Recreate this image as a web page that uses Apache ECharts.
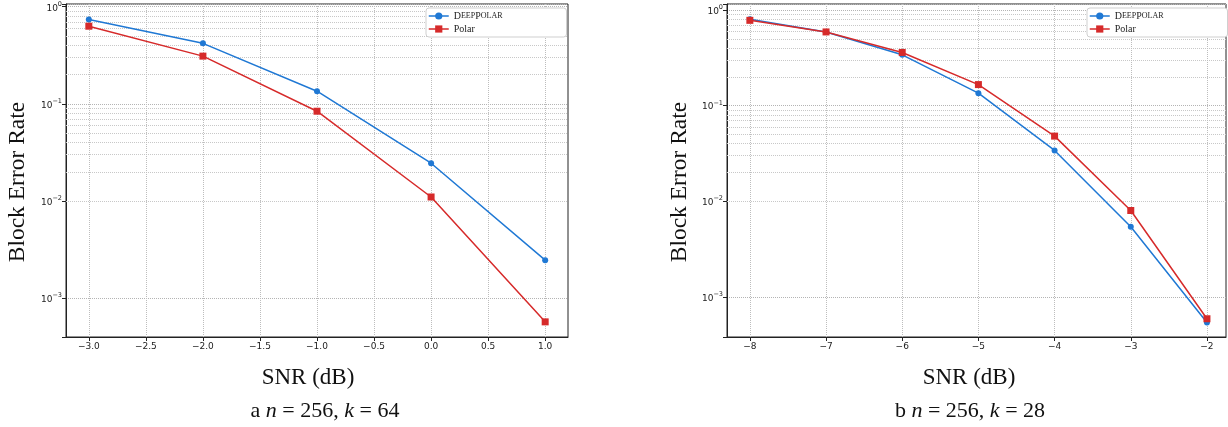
<!DOCTYPE html>
<html>
<head>
<meta charset="utf-8">
<script src="https://cdn.jsdelivr.net/npm/echarts@6/dist/echarts.min.js"></script>
<style>html,body{margin:0;padding:0;background:#fff}#c{width:1228px;height:427px}</style>
</head>
<body>
<div id="c"></div>
<script>
// ---- data ----
const snrA = [-3, -2, -1, 0, 1];
const deepA = [0.74, 0.42, 0.135, 0.0245, 0.00246];
const polarA = [0.63, 0.31, 0.084, 0.011, 0.00057];

const snrB = [-8, -7, -6, -5, -4, -3, -2];
const deepB = [0.80, 0.59, 0.34, 0.135, 0.034, 0.0054, 0.00054];
const polarB = [0.78, 0.59, 0.36, 0.166, 0.048, 0.0080, 0.00059];

const xTicksA = [-3, -2.5, -2, -1.5, -1, -0.5, 0, 0.5, 1];
const xTicksB = [-8, -7, -6, -5, -4, -3, -2];
const decades = [1e-4, 1e-3, 1e-2, 1e-1];
const minorMultipliers = [2, 3, 4, 5, 6, 7, 8, 9];

const seriesNames = ['DeepPolar', 'Polar'];
const BLUE = '#1f78d4', RED = '#d62a2a';

const minorVals = [];
decades.forEach(d => minorMultipliers.forEach(m => minorVals.push(d * m)));

const chart = echarts.init(document.getElementById('c'), null, {renderer: 'canvas'});

function yFmt(v) {
  const l = Math.log10(v);
  const e = Math.round(l);
  if (Math.abs(l - e) > 1e-6) return '';
  return '{b|10}{s|' + (e < 0 ? '\u2212' + (-e) : e) + '}';
}
function xFmtA(v) { return (v < 0 ? '\u2212' : '') + Math.abs(v).toFixed(1); }
function xFmtB(v) { return (v < 0 ? '\u2212' : '') + Math.abs(v).toFixed(0); }

const tickFont = {fontFamily: 'DejaVu Sans', fontSize: 9, color: '#222'};

function xAxis(idx, min, max, ticks, fmt) {
  return {
    type: 'value', gridIndex: idx, min: min, max: max,
    axisLine: {show: true, onZero: false, lineStyle: {color: '#222', width: 1}},
    axisTick: {show: true, length: 4, customValues: ticks, lineStyle: {color: '#222'}},
    axisLabel: Object.assign({margin: 5, customValues: ticks, formatter: fmt}, tickFont),
    splitLine: {show: false}
  };
}
function yAxis(idx, min, max) {
  return {
    type: 'log', logBase: 10, gridIndex: idx, min: min, max: max,
    axisLine: {show: true, onZero: false, lineStyle: {color: '#222', width: 1}},
    axisTick: {show: true, length: 4, lineStyle: {color: '#222'}},
    axisLabel: {
      margin: 4, formatter: yFmt,
      rich: {
        b: {fontFamily: 'DejaVu Sans', fontSize: 9, color: '#222', padding: [3, 0, 0, 0]},
        s: {fontFamily: 'DejaVu Sans', fontSize: 6.5, color: '#222', padding: [0, 0, 5, 0]}
      }
    },
    splitLine: {show: true, lineStyle: {color: '#b4b4b4', type: [1, 1], width: 1}}
  };
}

function gridLines(xIdx, ticks, yMin, yMax) {
  const data = [];
  minorVals.forEach(v => { if (v > yMin && v < yMax) data.push({yAxis: v, lineStyle: {color: '#c8c8c8', type: [1, 1], width: 1}}); });
  ticks.forEach(t => data.push({xAxis: t, lineStyle: {color: '#bdbdbd', type: [1, 1], width: 1}}));
  return {
    type: 'line', xAxisIndex: xIdx, yAxisIndex: xIdx, data: [], silent: true,
    markLine: {silent: true, symbol: 'none', label: {show: false}, animation: false, data: data}
  };
}

function lineSeries(name, idx, xs, ys, color, symbol, size) {
  return {
    name: name, type: 'line', xAxisIndex: idx, yAxisIndex: idx,
    data: xs.map((x, i) => [x, ys[i]]),
    symbol: symbol, symbolSize: size, showSymbol: true,
    lineStyle: {color: color, width: 1.5},
    itemStyle: {color: color, borderColor: color, borderWidth: 0},
    z: 5, animation: false
  };
}

const yMinA = Math.pow(10, -3.4), yMaxA = Math.pow(10, 0.028);
const yMinB = Math.pow(10, -3.42), yMaxB = Math.pow(10, 0.063);

function legend(left) {
  return {
    left: left, top: 8, orient: 'vertical', z: 10,
    data: [
      {name: seriesNames[0], itemStyle: {color: BLUE, borderColor: BLUE, borderWidth: 0}, lineStyle: {color: BLUE, width: 1.5}},
      {name: seriesNames[1], itemStyle: {color: RED, borderColor: RED, borderWidth: 0}, lineStyle: {color: RED, width: 1.5}}
    ],
    backgroundColor: '#fff', borderColor: '#cfcfcf', borderWidth: 1, borderRadius: 3,
    padding: [3, 64, 3, 2], itemGap: 3, itemWidth: 20, itemHeight: 9, itemTextGap: 6,
    formatter: function (n) { return n === 'DeepPolar' ? '{big|D}{sc|EEP}{big|P}{sc|OLAR}' : '{big|Polar}'; },
    textStyle: {
      rich: {
        big: {fontFamily: 'Liberation Serif', fontSize: 10, color: '#222'},
        sc: {fontFamily: 'Liberation Serif', fontSize: 8, color: '#222'}
      }
    }
  };
}

const serif = 'Liberation Serif';
const capRich = {
  r: {fontFamily: serif, fontSize: 22, fill: '#111'},
  i: {fontFamily: serif, fontSize: 22, fontStyle: 'italic', fill: '#111'}
};

const option = {
  backgroundColor: '#fff',
  animation: false,
  grid: [
    {left: 66, top: 4, width: 502, height: 333, show: true, borderColor: '#222', borderWidth: 1, backgroundColor: 'transparent'},
    {left: 727, top: 4, width: 499, height: 333, show: true, borderColor: '#222', borderWidth: 1, backgroundColor: 'transparent'}
  ],
  xAxis: [xAxis(0, -3.2, 1.2, xTicksA, xFmtA), xAxis(1, -8.3, -1.75, xTicksB, xFmtB)],
  yAxis: [yAxis(0, yMinA, yMaxA), yAxis(1, yMinB, yMaxB)],
  legend: [legend(426), legend(1087)],
  series: [
    gridLines(0, xTicksA, yMinA, yMaxA),
    gridLines(1, xTicksB, yMinB, yMaxB),
    lineSeries(seriesNames[0], 0, snrA, deepA, BLUE, 'circle', 6),
    lineSeries(seriesNames[1], 0, snrA, polarA, RED, 'rect', 7),
    lineSeries(seriesNames[0], 1, snrB, deepB, BLUE, 'circle', 6),
    lineSeries(seriesNames[1], 1, snrB, polarB, RED, 'rect', 7)
  ],
  graphic: [
    {type: 'text', x: 18, y: 182, rotation: Math.PI / 2, style: {text: 'Block Error Rate', font: '23.5px "Liberation Serif"', fill: '#111', align: 'center', verticalAlign: 'middle'}},
    {type: 'text', x: 680, y: 182, rotation: Math.PI / 2, style: {text: 'Block Error Rate', font: '23.5px "Liberation Serif"', fill: '#111', align: 'center', verticalAlign: 'middle'}},
    {type: 'text', x: 308, y: 378, style: {text: 'SNR (dB)', font: '23px "Liberation Serif"', fill: '#111', align: 'center', verticalAlign: 'middle'}},
    {type: 'text', x: 969, y: 378, style: {text: 'SNR (dB)', font: '23px "Liberation Serif"', fill: '#111', align: 'center', verticalAlign: 'middle'}},
    {type: 'text', x: 325, y: 411, style: {text: '{r|a }{i|n}{r| = 256, }{i|k}{r| = 64}', rich: capRich, align: 'center', verticalAlign: 'middle'}},
    {type: 'text', x: 970, y: 411, style: {text: '{r|b }{i|n}{r| = 256, }{i|k}{r| = 28}', rich: capRich, align: 'center', verticalAlign: 'middle'}}
  ]
};
chart.setOption(option);
</script>
</body>
</html>
